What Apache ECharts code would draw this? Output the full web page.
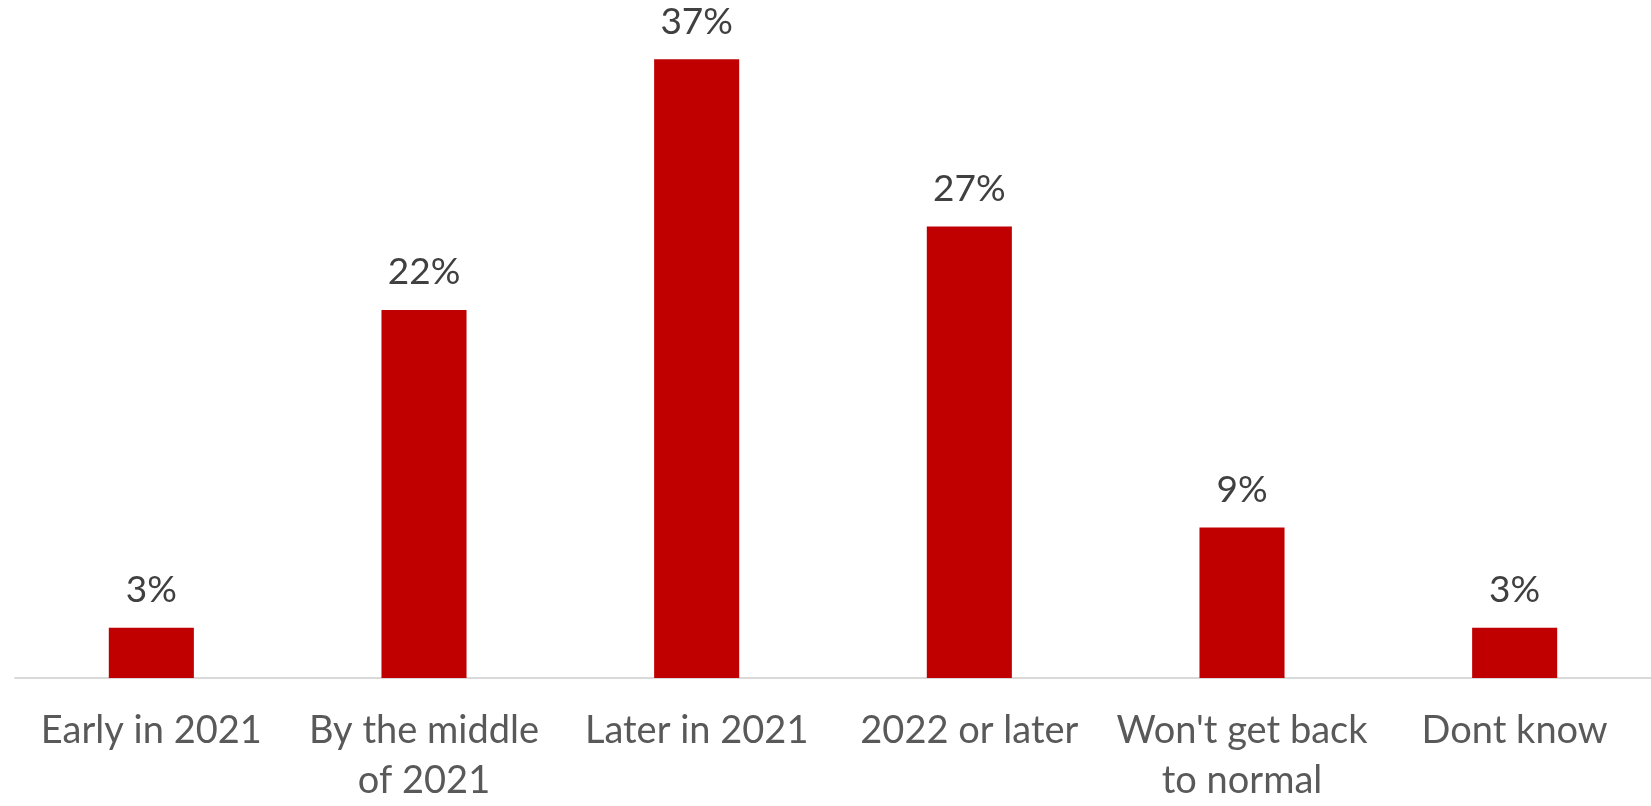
<!DOCTYPE html>
<html>
<head>
<meta charset="utf-8">
<script src="https://cdn.jsdelivr.net/npm/echarts@6/dist/echarts.min.js"></script>
<style>
  html, body { margin: 0; padding: 0; background: #ffffff; }
  #chart { width: 1651px; height: 806px; }
</style>
</head>
<body>
<div id="chart"></div>
<script>
// Expected return to normal: share of respondents per answer
const categories = [
  'Early in 2021',
  'By the middle\nof 2021',
  'Later in 2021',
  '2022 or later',
  "Won't get back\nto normal",
  'Dont know'
];
const shares = [3, 22, 37, 27, 9, 3];

const chart = echarts.init(document.getElementById('chart'));
chart.setOption({
  animation: false,
  grid: { left: 15, right: 0, top: 9, bottom: 122, containLabel: false },
  xAxis: {
    type: 'category',
    data: categories,
    axisLine: { show: true, lineStyle: { color: '#d9d9d9', width: 2 } },
    axisTick: { show: false },
    axisLabel: {
      interval: 0,
      margin: 28,
      color: '#595959',
      fontFamily: 'Lato',
      fontSize: 38,
      lineHeight: 50
    }
  },
  yAxis: {
    type: 'value',
    min: 0,
    max: 40,
    show: false,
    splitLine: { show: false }
  },
  series: [{
    type: 'bar',
    data: shares,
    barWidth: '31.2%',
    itemStyle: { color: '#c00000' },
    label: {
      show: true,
      position: 'top',
      distance: 19,
      color: '#404040',
      fontFamily: 'Lato',
      fontSize: 37,
      formatter: p => p.value + '%'
    }
  }]
});
</script>
</body>
</html>
